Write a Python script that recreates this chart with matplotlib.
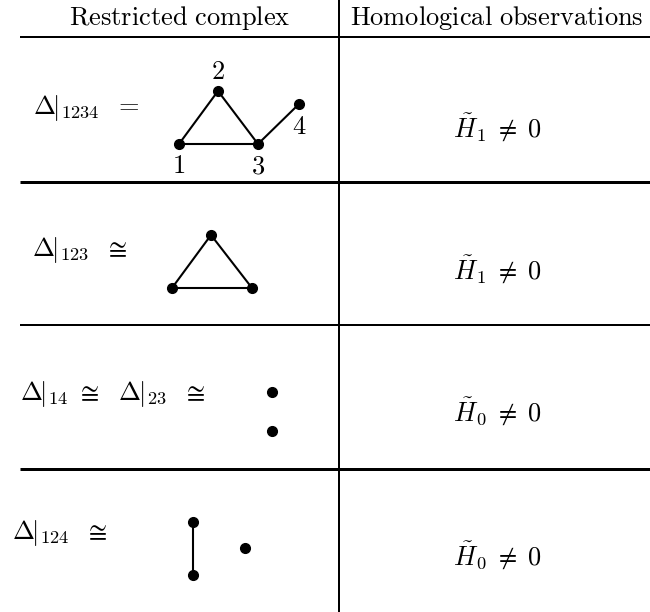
import numpy as np
import matplotlib
matplotlib.use('Agg')
import matplotlib.pyplot as plt

plt.rcParams['mathtext.fontset'] = 'cm'

# table layout (pixel coords, y downward)
header = [r'$\mathrm{Restricted\ complex}$', r'$\mathrm{Homological\ observations}$']
header_x = [180, 497]
D = r'\left.\Delta_{\,}^{\,}\!\!\right|'
row_labels = [r'$' + D + r'_{1234}\ \;=$',
              r'$' + D + r'_{123}\ \;\cong$',
              r'$' + D + r'_{14}\ \cong\ \ ' + D + r'_{23}\ \;\cong$',
              r'$' + D + r'_{124}\ \;\cong$']
label_x = [33, 32, 20, 12]
label_y = [108, 250, 394, 533]
observations = [r'$\tilde{H}_1 \;\neq\; 0$', r'$\tilde{H}_1 \;\neq\; 0$',
                r'$\tilde{H}_0 \;\neq\; 0$', r'$\tilde{H}_0 \;\neq\; 0$']
obs_y = [128, 270, 412, 556]
hlines_y = [37, 181.5, 325, 468.5]
hlines_px = [2, 3, 2, 3]

# complexes: vertices and edges
verts1 = [(179, 144), (218, 91), (258, 144), (299, 104)]
edges1 = [(0, 1), (1, 2), (0, 2), (2, 3)]
names1 = ['1', '2', '3', '4']
names1_pos = [(179, 166), (218, 72), (258, 167), (299, 127)]

verts2 = [(211, 235), (172, 288), (252, 288)]
edges2 = [(0, 1), (1, 2), (0, 2)]

verts3 = [(272, 392), (272, 431)]
edges3 = []

verts4 = [(193, 522), (193, 575), (245, 548)]
edges4 = [(0, 1)]

FS = 19
PX = 0.72  # points per pixel at dpi 100


def drawComplex(ax, verts, edges):
    """drawComplex."""
    for a, b in edges:
        ax.plot([verts[a][0], verts[b][0]], [verts[a][1], verts[b][1]],
                color='k', lw=1.5, zorder=2)
    xs = [v[0] for v in verts]
    ys = [v[1] for v in verts]
    ax.plot(xs, ys, 'o', color='k', ms=7, zorder=3)


fig = plt.figure(figsize=(6.5, 6.12), dpi=100)
ax = fig.add_axes([0, 0, 1, 1])
ax.set_xlim(0, 650)
ax.set_ylim(612, 0)
ax.axis('off')

for s, x in zip(header, header_x):
    ax.text(x, 18, s, fontsize=FS, ha='center', va='center')

for y, w in zip(hlines_y, hlines_px):
    ax.plot([20, 650], [y, y], color='k', lw=w * PX, solid_capstyle='butt')
ax.plot([339, 339], [0, 612], color='k', lw=2 * PX, solid_capstyle='butt')

for s, x, y in zip(row_labels, label_x, label_y):
    ax.text(x, y, s, fontsize=FS, ha='left', va='center')
for s, y in zip(observations, obs_y):
    ax.text(497, y, s, fontsize=FS, ha='center', va='center')

drawComplex(ax, verts1, edges1)
for n, (x, y) in zip(names1, names1_pos):
    ax.text(x, y, '$' + n + '$', fontsize=FS, ha='center', va='center')
drawComplex(ax, verts2, edges2)
drawComplex(ax, verts3, edges3)
drawComplex(ax, verts4, edges4)

fig.savefig('out.png', dpi=100)
